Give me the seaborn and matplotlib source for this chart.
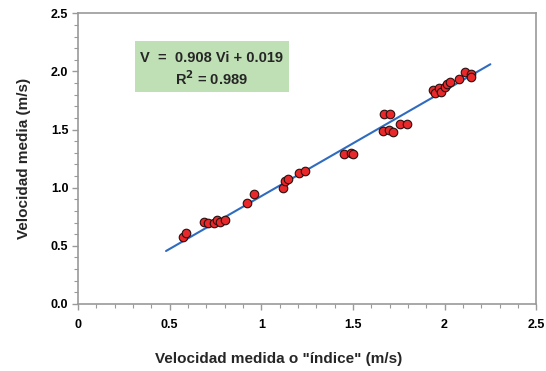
import matplotlib
matplotlib.use("Agg")
import matplotlib.pyplot as plt
from matplotlib.patches import Rectangle
from matplotlib.ticker import MultipleLocator
import numpy as np
import pandas as pd
import seaborn as sns

# Measured pairs: index velocity (x) vs mean velocity (y), m/s
vel_indice = [0.571, 0.588, 0.689, 0.711, 0.742, 0.757, 0.775, 0.802, 0.921, 0.959,
              1.119, 1.130, 1.145, 1.206, 1.240, 1.452, 1.490, 1.499,
              1.663, 1.667, 1.699, 1.701, 1.718, 1.758, 1.794,
              1.939, 1.949, 1.967, 1.980, 2.003, 2.012, 2.031, 2.081, 2.109, 2.143, 2.145]
vel_media = [0.574, 0.608, 0.703, 0.700, 0.694, 0.723, 0.703, 0.720, 0.867, 0.949,
             1.001, 1.061, 1.078, 1.125, 1.140, 1.291, 1.297, 1.288,
             1.486, 1.635, 1.495, 1.635, 1.483, 1.549, 1.549,
             1.842, 1.813, 1.856, 1.827, 1.870, 1.893, 1.910, 1.934, 1.994, 1.977, 1.951]

# Linear regression V = a*Vi + b
pendiente = 0.908
ordenada = 0.019
r2 = 0.989
rango_ajuste = [0.48, 2.25]

x_ticks = [0, 0.5, 1, 1.5, 2, 2.5]
x_tick_labels = ["0", "0.5", "1", "1.5", "2", "2.5"]
y_ticks = [0.0, 0.5, 1.0, 1.5, 2.0, 2.5]
y_tick_labels = ["0.0", "0.5", "1.0", "1.5", "2.0", "2.5"]

sns.set_theme(style="white")
plt.rcParams["font.family"] = ["Liberation Sans", "DejaVu Sans"]

df = pd.DataFrame({"x": vel_indice, "y": vel_media})
fx = np.array(rango_ajuste)
df_fit = pd.DataFrame({"x": fx, "y": pendiente * fx + ordenada})

fig = plt.figure(figsize=(5.46, 3.71), dpi=100)
ax = fig.add_axes([0.143, 0.181, 0.839, 0.783])

sns.lineplot(data=df_fit, x="x", y="y", ax=ax, color="#2f6cc0", linewidth=1.5, zorder=2)
sns.scatterplot(data=df, x="x", y="y", ax=ax, color="#e8282a", edgecolor="#2a1010",
                linewidth=0.8, s=38, zorder=3)

ax.set_xlim(0, 2.5)
ax.set_ylim(0, 2.5)
ax.set_xticks(x_ticks)
ax.set_xticklabels(x_tick_labels)
ax.set_yticks(y_ticks)
ax.set_yticklabels(y_tick_labels)
ax.xaxis.set_minor_locator(MultipleLocator(0.1))
ax.yaxis.set_minor_locator(MultipleLocator(0.1))

for sp in ax.spines.values():
    sp.set_color("#999999")
    sp.set_linewidth(1.2)

ax.tick_params(axis="both", which="major", direction="out", length=4, width=1,
               color="#999999", labelsize=9, labelcolor="black")
ax.tick_params(axis="both", which="minor", direction="out", length=3, width=0.8,
               color="#999999")
ax.tick_params(axis="x", which="both", bottom=True, pad=7)
ax.tick_params(axis="y", which="both", left=True, pad=3)
for lab in ax.get_xticklabels() + ax.get_yticklabels():
    lab.set_fontweight("bold")

ax.set_xlabel('Velocidad medida o "índice" (m/s)', fontsize=11, fontweight="bold")
ax.xaxis.set_label_coords(0.437, -0.165)
ax.set_ylabel("Velocidad media (m/s)", fontsize=11, fontweight="bold", labelpad=14)

# Equation box
ax.add_patch(Rectangle((0.31, 1.82), 0.84, 0.44, facecolor="#bfe0b4", edgecolor="none", zorder=1))
ax.text(0.73, 2.12, f"V  =  {pendiente:.3f} Vi + {ordenada:.3f}", ha="center", va="center",
        fontsize=10.5, fontweight="bold", zorder=4)
ax.text(0.73, 1.94, f"R$^\\mathbf{{2}}$ = {r2:.3f}", ha="center", va="center",
        fontsize=10.5, fontweight="bold", zorder=4)

fig.savefig("out.png", dpi=100)
